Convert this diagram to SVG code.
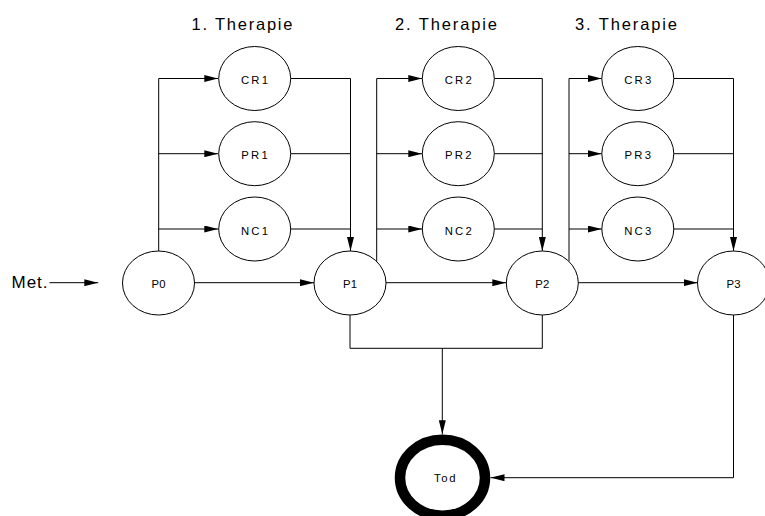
<svg xmlns="http://www.w3.org/2000/svg" width="765" height="516" viewBox="0 0 765 516">
  <defs>
    <marker id="arrow" markerUnits="userSpaceOnUse" markerWidth="14" markerHeight="7" refX="14" refY="3.5" orient="auto">
      <path d="M0,0 L14,3.5 L0,7 Z" fill="#000"/>
    </marker>
  </defs>
  <style>
    .node ellipse { fill: #fff; stroke: #000; stroke-width: 1; }
    .node text { font-family: "Liberation Sans", Arial, sans-serif; font-size: 11.3px; text-anchor: middle; fill: #000; }
    #Tod ellipse { stroke-width: 10.5; }
    .title { font-family: "Liberation Sans", Arial, sans-serif; font-size: 16.5px; fill: #000; }
    .edges path { fill: none; stroke: #000; stroke-width: 1; }
    .edges path.arr { marker-end: url(#arrow); }
  </style>
  <rect width="765" height="516" fill="#fff"/>

  <!-- column headings -->
  <text class="title" x="191.5" y="30" textLength="101" lengthAdjust="spacing">1. Therapie</text>
  <text class="title" x="395" y="30" textLength="102" lengthAdjust="spacing">2. Therapie</text>
  <text class="title" x="575" y="30" textLength="102" lengthAdjust="spacing">3. Therapie</text>
  <text class="title" x="11.5" y="288" textLength="36" lengthAdjust="spacing" style="font-size:17px">Met.</text>

  <!-- connectors -->
  <g class="edges">
    <path class="arr" d="M49.5,282.7 H98.3"/>
    <!-- therapy 1 branches -->
    <path class="arr" d="M158.7,251 V78.5 H218.3"/>
    <path class="arr" d="M158.7,153.7 H218.3"/>
    <path class="arr" d="M158.7,229 H218.3"/>
    <path class="arr" d="M291,78.5 H350.5 V251"/>
    <path d="M291,153.7 H350.5"/>
    <path d="M291,229 H350.5"/>
    <!-- therapy 2 branches -->
    <path class="arr" d="M376.7,261.5 V78.5 H422.3"/>
    <path class="arr" d="M376.7,153.7 H422.3"/>
    <path class="arr" d="M376.7,229 H422.3"/>
    <path class="arr" d="M494.3,78.5 H542.3 V251"/>
    <path d="M494.3,153.7 H542.3"/>
    <path d="M494.3,229 H542.3"/>
    <!-- therapy 3 branches -->
    <path class="arr" d="M569,261.5 V78.5 H601.7"/>
    <path class="arr" d="M569,153.7 H601.7"/>
    <path class="arr" d="M569,229 H601.7"/>
    <path class="arr" d="M674,78.5 H733.5 V251"/>
    <path d="M674,153.7 H733.5"/>
    <path d="M674,229 H733.5"/>
    <!-- progression chain -->
    <path class="arr" d="M194.5,282.7 H314"/>
    <path class="arr" d="M386,282.7 H506.3"/>
    <path class="arr" d="M578.3,282.7 H697.5"/>
    <!-- death transitions -->
    <path d="M350,315 V348.3 H542.3 V315"/>
    <path class="arr" d="M442.3,348.3 V434.3"/>
    <path class="arr" d="M733.5,315 V477.7 H490.5"/>
  </g>

  <!-- nodes -->
  <g id="P0" class="node"><ellipse cx="158.5" cy="283" rx="36" ry="32"/><text x="158.5" y="287.5" textLength="14" lengthAdjust="spacing">P0</text></g>
  <g id="CR1" class="node"><ellipse cx="254.7" cy="78.5" rx="36" ry="32"/><text x="254.5" y="84" textLength="27" lengthAdjust="spacing">CR1</text></g>
  <g id="PR1" class="node"><ellipse cx="254.7" cy="153.7" rx="36" ry="32"/><text x="254.5" y="159.2" textLength="26.5" lengthAdjust="spacing">PR1</text></g>
  <g id="NC1" class="node"><ellipse cx="254.7" cy="229" rx="36" ry="32"/><text x="254.5" y="234.5" textLength="27" lengthAdjust="spacing">NC1</text></g>
  <g id="P1" class="node"><ellipse cx="350" cy="283" rx="36" ry="32"/><text x="350" y="287.5" textLength="14" lengthAdjust="spacing">P1</text></g>
  <g id="CR2" class="node"><ellipse cx="458.3" cy="78.5" rx="36" ry="32"/><text x="458.2" y="84" textLength="27" lengthAdjust="spacing">CR2</text></g>
  <g id="PR2" class="node"><ellipse cx="458.3" cy="153.7" rx="36" ry="32"/><text x="458.2" y="159.2" textLength="26.5" lengthAdjust="spacing">PR2</text></g>
  <g id="NC2" class="node"><ellipse cx="458.3" cy="229" rx="36" ry="32"/><text x="458.2" y="234.5" textLength="27" lengthAdjust="spacing">NC2</text></g>
  <g id="P2" class="node"><ellipse cx="542.3" cy="283" rx="36" ry="32"/><text x="542.3" y="287.5" textLength="14" lengthAdjust="spacing">P2</text></g>
  <g id="CR3" class="node"><ellipse cx="637.8" cy="78.5" rx="36" ry="32"/><text x="637.7" y="84" textLength="27" lengthAdjust="spacing">CR3</text></g>
  <g id="PR3" class="node"><ellipse cx="637.8" cy="153.7" rx="36" ry="32"/><text x="637.7" y="159.2" textLength="26.5" lengthAdjust="spacing">PR3</text></g>
  <g id="NC3" class="node"><ellipse cx="637.8" cy="229" rx="36" ry="32"/><text x="637.7" y="234.5" textLength="27" lengthAdjust="spacing">NC3</text></g>
  <g id="P3" class="node"><ellipse cx="733.5" cy="283" rx="36" ry="32"/><text x="733.5" y="287.5" textLength="14" lengthAdjust="spacing">P3</text></g>
  <g id="Tod" class="node"><ellipse cx="442.5" cy="477.7" rx="42.5" ry="38"/><text x="444.8" y="482.2" textLength="21.5" lengthAdjust="spacing">Tod</text></g>
</svg>
